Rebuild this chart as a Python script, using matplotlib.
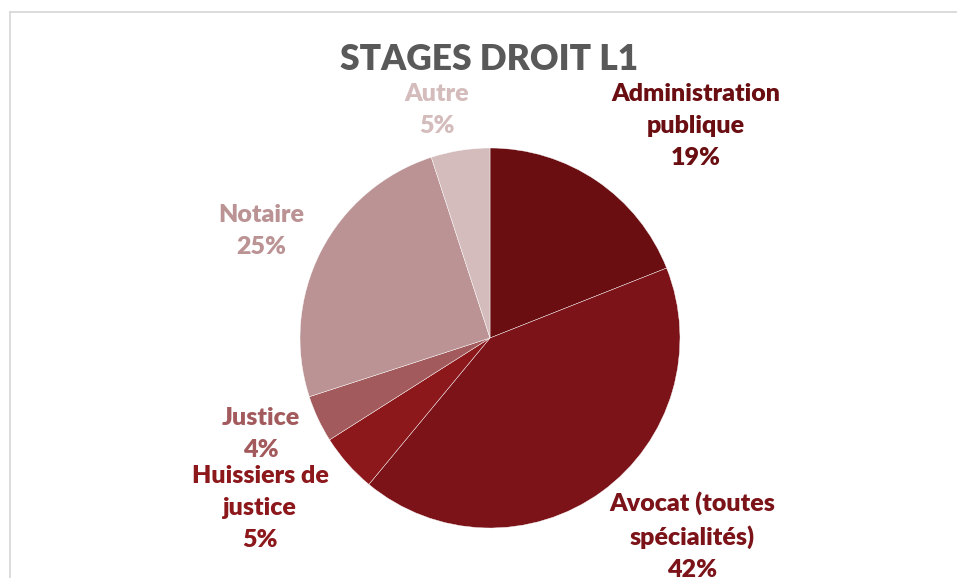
import matplotlib.pyplot as plt

plt.rcParams['font.family'] = ['Lato', 'DejaVu Sans']

categories = ["Administration\npublique", "Avocat (toutes\nspécialités)", "Huissiers de\njustice",
              "Justice", "Notaire", "Autre"]
values = [19, 42, 5, 4, 25, 5]
colors = ["#6A0E12", "#7B1318", "#8C181C", "#A35A5C", "#BB9394", "#D5BCBC"]

# label centres in pixels (x, y from top)
label_pos = [(696, 126), (692, 536), (260, 508), (261, 434), (261, 231), (437, 110)]

W, H = 957, 578
fig = plt.figure(figsize=(W / 100, H / 100), dpi=100)
ax = fig.add_axes([0, 0, 1, 1])

ax.pie(values, colors=colors, startangle=90, counterclock=False,
       center=(490, H - 338), radius=190, frame=True,
       wedgeprops=dict(edgecolor="white", linewidth=0.3))
ax.set_xlim(0, W)
ax.set_ylim(0, H)
ax.set_aspect('equal')
ax.axis('off')

# chart frame (top and left edges visible)
ax.plot([10, W], [H - 12, H - 12], color="#D9D9D9", lw=1.3)
ax.plot([10, 10], [H - 12, 0], color="#D9D9D9", lw=1.3)

for cat, v, c, (x, y) in zip(categories, values, colors, label_pos):
    ax.text(x, H - y, f"{cat}\n{v}%", color=c, fontsize=18, fontweight='heavy',
            ha='center', va='center', linespacing=1.55)

ax.text(489, H - 60, "STAGES DROIT L1", color="#595959", fontsize=25.5, fontweight='heavy',
        ha='center', va='center')

fig.savefig("out.png", dpi=100)
